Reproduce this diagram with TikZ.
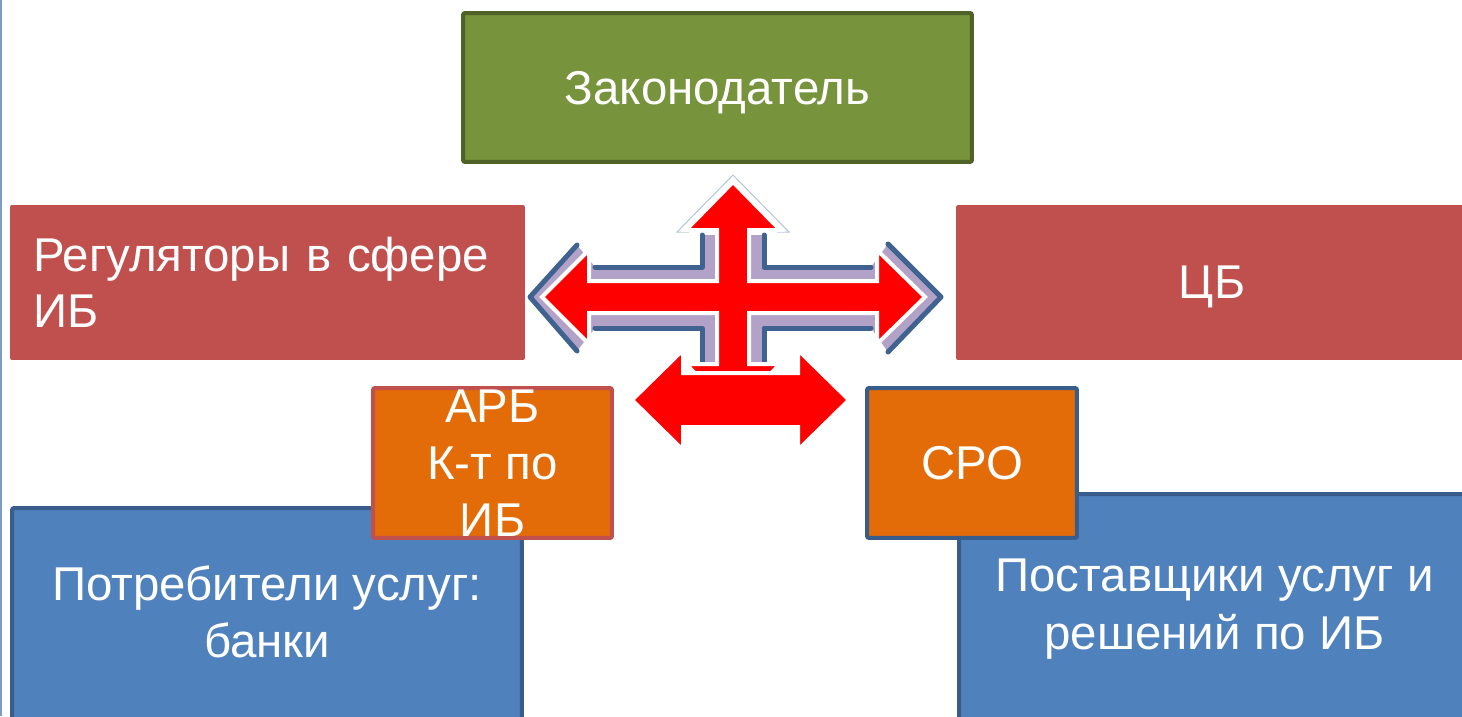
\documentclass[tikz,border=0pt]{standalone}
\usepackage{fontspec}
\setmainfont{Liberation Sans}
\usepackage{xcolor}
\usetikzlibrary{positioning}
\definecolor{zgreen}{HTML}{77933C}
\definecolor{zgreendark}{HTML}{4F6228}
\definecolor{regred}{HTML}{C0504D}
\definecolor{orgbox}{HTML}{E36C09}
\definecolor{usrblue}{HTML}{4F81BD}
\definecolor{usrbluedark}{HTML}{385D8A}
\definecolor{shlav}{HTML}{B3A2C7}
\definecolor{shblue}{HTML}{3F6290}
\definecolor{edgeline}{HTML}{7B9CC5}
\definecolor{paleline}{HTML}{B4C4DA}

\begin{document}
\begin{tikzpicture}[x=0.02cm,y=-0.02cm,
    box/.style={rectangle,rounded corners=0.04cm,text=white,inner sep=0pt,
        line width=0.08cm,align=center,font=\fontsize{27}{32}\selectfont},
    arr/.style={fill=red,draw=white,line width=0.08cm},
    shline/.style={draw=shblue,line width=0.1cm,line cap=round,line join=round}]
    \useasboundingbox (0,0) rectangle (1462,716);
    \fill[white] (0,0) rectangle (1462,716);
    \draw[edgeline,line width=0.04cm] (1,0) -- (1,716);
    % top and middle row
    \node[box,fill=regred,minimum width=10.3cm,minimum height=3.1cm,
        text width=9.38cm,inner xsep=0.46cm,align=left] (regul) at (267.5,282.5)
        {Регуляторы в сфере\\ИБ};
    \node[box,fill=regred,minimum width=10.24cm,minimum height=3.1cm,text depth=0pt] (cb) at (1212,282.5) {ЦБ};
    \node[box,fill=zgreen,draw=zgreendark,minimum width=10.18cm,minimum height=2.98cm,text depth=0pt] (zakon) at (717.5,87.5) {Законодатель};
    % bottom row
    \node[box,fill=usrblue,draw=usrbluedark,minimum width=10.2cm,minimum height=4.28cm,text depth=0.14cm] (potreb) at (267,615)
        {Потребители услуг:\\банки};
    \node[box,fill=usrblue,draw=usrbluedark,minimum width=10.22cm,minimum height=4.56cm,text depth=0.14cm,
        font=\fontsize{27}{33}\selectfont] (postav) at (1214.5,608)
        {Поставщики услуг и\\решений по ИБ};
    \node[box,fill=orgbox,draw=regred,minimum width=4.78cm,minimum height=3cm,
        font=\fontsize{27}{32.4}\selectfont] (arb) at (492.5,463) {АРБ\\К-т по\\ИБ};
    \node[box,fill=orgbox,draw=usrbluedark,minimum width=4.2cm,minimum height=3cm,text depth=0pt] (sro) at (972,463) {СРО};
    % cross of arrows
    \begin{scope}[shift={(733,297)}]
        \fill[shlav] (-203,0) -- (-156,-52) -- (-138,-30) -- (-31,-30) -- (-31,-62) -- (31,-62) -- (31,-30)
            -- (138,-30) -- (155,-53) -- (208,0) -- (155,55) -- (138,31) -- (31,31) -- (31,65)
            -- (-31,65) -- (-31,31) -- (-138,31) -- (-156,54) -- cycle;
        \draw[shline] (-156,-52) -- (-203,0) -- (-156,54);
        \draw[shline] (155,-53) -- (208,0) -- (155,55);
        \draw[shline] (-138,-30) -- (-31,-30) -- (-31,-62);
        \draw[shline] (138,-30) -- (31,-30) -- (31,-62);
        \draw[shline] (-138,31) -- (-31,31) -- (-31,65);
        \draw[shline] (138,31) -- (31,31) -- (31,65);
        \draw[paleline,line width=0.02cm] (-44,-65) -- (-56,-65) -- (0,-122) -- (56,-65) -- (44,-65);
        \path[arr] (-191,0) -- (-144,-47) -- (-144,-16) -- (-16,-16) -- (-16,-67) -- (-47,-67) -- (0,-115)
            -- (47,-67) -- (16,-67) -- (16,-16) -- (144,-16) -- (144,-47) -- (192,0) -- (144,47)
            -- (144,16) -- (16,16) -- (16,67) -- (47,67) -- (0,115) -- (-47,67) -- (-16,67)
            -- (-16,16) -- (-144,16) -- (-144,47) -- cycle;
    \end{scope}
    \begin{scope}[shift={(740.5,400)}]
        \path[arr] (-108.5,0) -- (-57.5,-50) -- (-57.5,-27) -- (57.5,-27) -- (57.5,-50) -- (108.5,0)
            -- (57.5,50) -- (57.5,27) -- (-57.5,27) -- (-57.5,50) -- cycle;
    \end{scope}
\end{tikzpicture}
\end{document}
